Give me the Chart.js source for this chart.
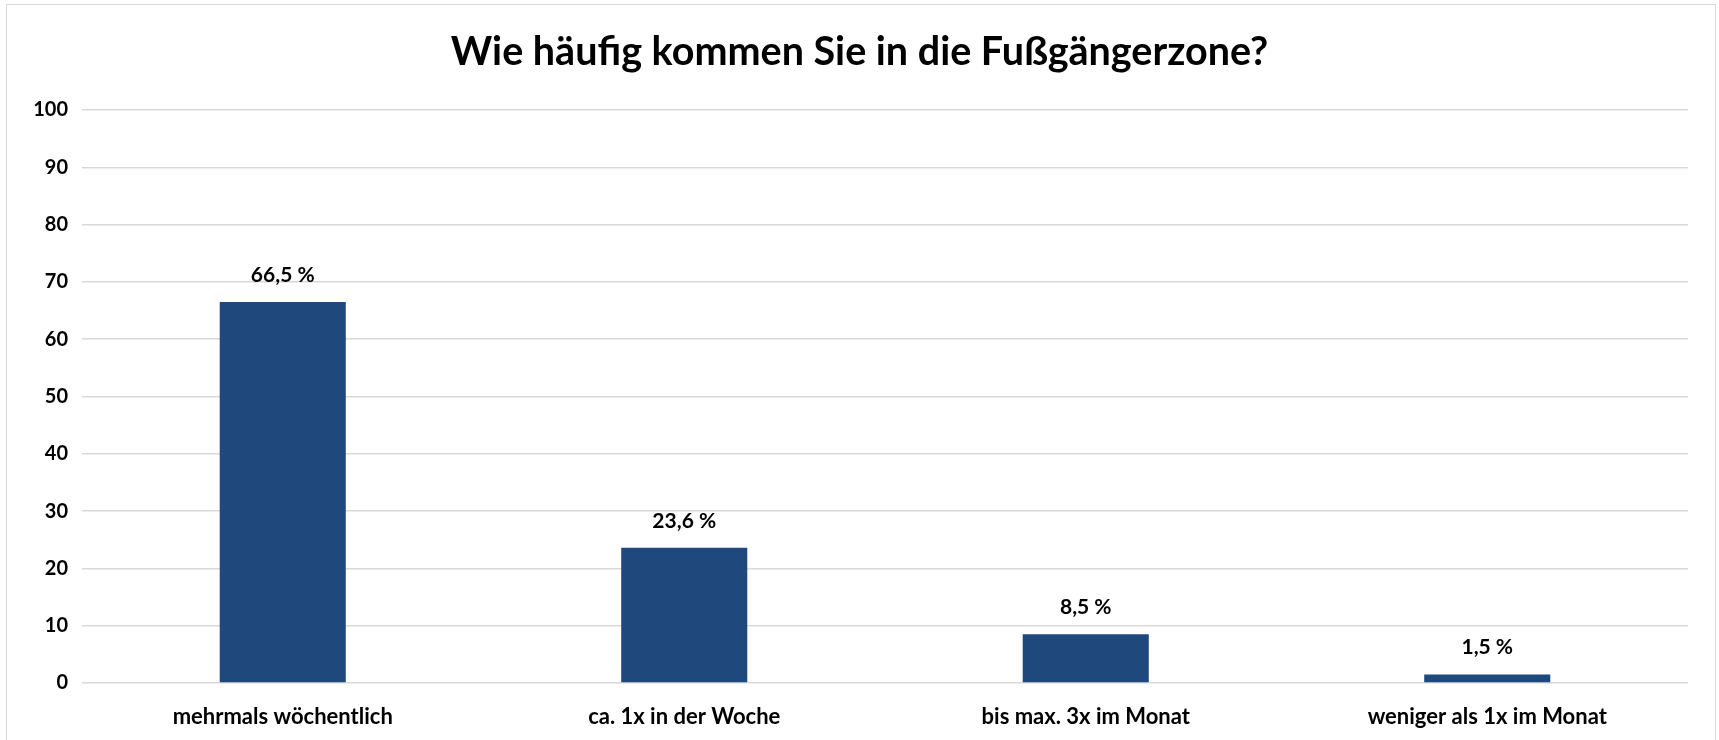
<!DOCTYPE html>
<html>
<head>
<meta charset="utf-8">
<script src="https://cdn.jsdelivr.net/npm/chart.js@4.4.1/dist/chart.umd.min.js"></script>
<style>
  html, body { margin: 0; padding: 0; background: #fff; }
  #wrap { position: relative; width: 1719px; height: 740px; }
  #frame { position: absolute; left: 6px; top: 4px; width: 1710px; height: 740px; border: 1px solid #d9d9d9; box-sizing: border-box; pointer-events: none; }
  canvas { position: absolute; left: 0; top: 0; }
</style>
</head>
<body>
<div id="wrap">
  <canvas id="c" width="1719" height="740"></canvas>
  <div id="frame"></div>
</div>
<script>
const categories = ["mehrmals wöchentlich", "ca. 1x in der Woche", "bis max. 3x im Monat", "weniger als 1x im Monat"];
const values = [66.5, 23.6, 8.5, 1.5];
const valueLabels = ["66,5 %", "23,6 %", "8,5 %", "1,5 %"];
const yTicks = [0, 10, 20, 30, 40, 50, 60, 70, 80, 90, 100];
const titleText = "Wie häufig kommen Sie in die Fußgängerzone?";

const FONT = "Lato, 'Open Sans', sans-serif";

const valueLabelPlugin = {
  id: 'valueLabels',
  afterDatasetsDraw(chart) {
    const ctx = chart.ctx;
    const meta = chart.getDatasetMeta(0);
    ctx.save();
    ctx.font = "bold 21px " + FONT;
    ctx.fillStyle = "#000";
    ctx.textAlign = "center";
    ctx.textBaseline = "middle";
    meta.data.forEach((bar, i) => {
      ctx.fillText(valueLabels[i], bar.x, bar.y - 27);
    });
    ctx.restore();
  }
};

const pageTitlePlugin = {
  id: 'pageTitle',
  afterDraw(chart) {
    const ctx = chart.ctx;
    ctx.save();
    ctx.font = "bold 39.5px " + FONT;
    ctx.fillStyle = "#000";
    ctx.textAlign = "center";
    ctx.textBaseline = "middle";
    ctx.fillText(titleText, chart.width / 2, 52);
    ctx.restore();
  }
};

new Chart(document.getElementById('c'), {
  type: 'bar',
  data: {
    labels: categories,
    datasets: [{
      data: values,
      backgroundColor: '#1F497D',
      borderWidth: 0,
      barPercentage: 0.314,
      categoryPercentage: 1.0
    }]
  },
  options: {
    responsive: false,
    animation: false,
    layout: { padding: { left: 0, right: 31, top: 110, bottom: 0 } },
    plugins: {
      legend: { display: false },
      tooltip: { enabled: false },
      title: { display: false }
    },
    scales: {
      x: {
        grid: { display: false, drawTicks: false },
        border: { display: false },
        ticks: {
          color: '#000',
          font: { family: FONT, size: 22, weight: 'bold' },
          padding: 21,
          maxRotation: 0,
          autoSkip: false
        },
        afterFit(s) { s.height = 57; }
      },
      y: {
        min: 0,
        max: 100,
        afterBuildTicks(s) { s.ticks = yTicks.map(v => ({ value: v })); },
        grid: { color: '#d9d9d9', lineWidth: 1.5, drawTicks: false },
        border: { display: false },
        ticks: {
          color: '#000',
          font: { family: FONT, size: 20, weight: 'bold' },
          padding: 14
        },
        afterFit(s) { s.width = 82; }
      }
    }
  },
  plugins: [valueLabelPlugin, pageTitlePlugin]
});
</script>
</body>
</html>
